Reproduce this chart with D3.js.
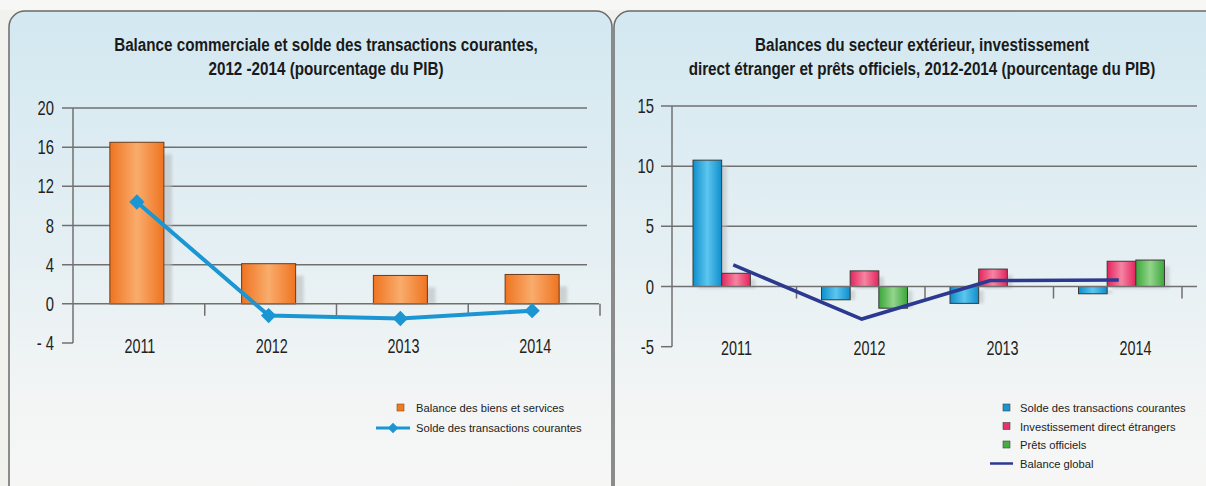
<!DOCTYPE html>
<html>
<head>
<meta charset="utf-8">
<title>Balances</title>
<script src="https://d3js.org/d3.v7.min.js"></script>
<style>
  body { margin: 0; background: #f1f1ed; }
  svg { display: block; }
  .title { font-family: "Liberation Sans", Arial, sans-serif; font-weight: bold; font-size: 17.5px; fill: #1a1a1a; }
  .tick-label { font-family: "Liberation Sans", Arial, sans-serif; font-size: 20px; fill: #222; }
  .legend { font-family: "Liberation Sans", sans-serif; font-size: 11.8px; fill: #222; }
</style>
</head>
<body>
<svg id="chart" width="1206" height="486"></svg>
<script>
// data
var years = ["2011", "2012", "2013", "2014"];
// left chart
var biensServices = [16.5, 4.1, 2.9, 3.0];
var soldeCourant = [10.4, -1.2, -1.5, -0.7];
var leftTicks = [20, 16, 12, 8, 4, 0, -4];
// right chart
var soldeTransactions = [10.5, -1.1, -1.4, -0.6];
var investissement = [1.1, 1.3, 1.45, 2.1];
var pretsOfficiels = [null, -1.8, null, 2.2];
var balanceGlobal = [1.8, -2.7, 0.5, 0.55];
var rightTicks = [15, 10, 5, 0, -5];

var svg = d3.select("#chart");
var defs = svg.append("defs");

// panel background gradient
var bg = defs.append("linearGradient").attr("id", "panelBg")
  .attr("x1", 0).attr("y1", 0).attr("x2", 0).attr("y2", 1);
bg.append("stop").attr("offset", "0%").attr("stop-color", "#d3e8f1");
bg.append("stop").attr("offset", "45%").attr("stop-color", "#e4eff3");
bg.append("stop").attr("offset", "75%").attr("stop-color", "#f3f5f5");
bg.append("stop").attr("offset", "100%").attr("stop-color", "#f7f7f5");

// bar gradients (light in the middle)
function barGrad(id, edge, mid) {
  var g = defs.append("linearGradient").attr("id", id)
    .attr("x1", 0).attr("y1", 0).attr("x2", 1).attr("y2", 0);
  g.append("stop").attr("offset", "0%").attr("stop-color", edge);
  g.append("stop").attr("offset", "50%").attr("stop-color", mid);
  g.append("stop").attr("offset", "100%").attr("stop-color", edge);
}
barGrad("gOrange", "#ef7421", "#f9ac6c");
barGrad("gBlue", "#0f8ecb", "#5cc6ef");
barGrad("gPink", "#e3245d", "#f584a3");
barGrad("gGreen", "#3ba63a", "#93d58c");

defs.append("filter").attr("id", "blur")
  .append("feGaussianBlur").attr("stdDeviation", 1.5);

// condensed text helper
function ctext(g, cls, x, y, sx, anchor, t) {
  return g.append("text").attr("class", cls)
    .attr("transform", "translate(" + x + "," + y + ") scale(" + sx + ",1)")
    .attr("text-anchor", anchor).text(t);
}

// panels
svg.append("rect").attr("x", 0).attr("y", 0).attr("width", 1206).attr("height", 10).attr("fill", "#f7f7f5");
[[9, 603], [614, 610]].forEach(function(p) {
  svg.append("rect")
    .attr("x", p[0]).attr("y", 11)
    .attr("width", p[1]).attr("height", 520)
    .attr("rx", 16)
    .attr("fill", "url(#panelBg)")
    .attr("stroke", "#6a6a6a")
    .attr("stroke-width", 1.5);
});

// ---------- left chart ----------
var xL = d3.scaleBand().domain(years).range([73, 600]);
var yL = d3.scaleLinear().domain([-4, 20]).range([343, 108]);
var L = svg.append("g");

ctext(L, "title", 326, 51, 0.87, "middle", "Balance commerciale et solde des transactions courantes,");
ctext(L, "title", 326, 75, 0.87, "middle", "2012 -2014 (pourcentage du PIB)");

// grid
L.selectAll(".grid").data(leftTicks.filter(function(d) { return d > 0; })).enter()
  .append("line")
  .attr("x1", 62).attr("x2", 587)
  .attr("y1", function(d) { return yL(d); }).attr("y2", function(d) { return yL(d); })
  .attr("stroke", "#707070").attr("stroke-width", 1.5);
L.append("line").attr("x1", 62).attr("x2", 73).attr("y1", yL(-4)).attr("y2", yL(-4))
  .attr("stroke", "#707070").attr("stroke-width", 1.5);
L.append("line").attr("x1", 73).attr("x2", 73).attr("y1", yL(20)).attr("y2", yL(-4))
  .attr("stroke", "#707070").attr("stroke-width", 1.5);

leftTicks.forEach(function(d) {
  ctext(L, "tick-label", 54, yL(d) + 7, 0.74, "end", d < 0 ? "- " + Math.abs(d) : String(d));
});

var bwL = xL.bandwidth() * 0.41;
function barX(d, i) { return xL(years[i]) + (xL.bandwidth() - bwL) / 2 - 2; }

// shadows
L.selectAll(".shL").data(biensServices).enter().append("rect")
  .attr("x", function(d, i) { return barX(d, i) + 8; })
  .attr("y", function(d) { return yL(d) + 12; })
  .attr("width", bwL)
  .attr("height", function(d) { return yL(0) - yL(d) - 12; })
  .attr("fill", "#b9bcbd").attr("opacity", 0.6).attr("filter", "url(#blur)");

L.selectAll(".barL").data(biensServices).enter().append("rect")
  .attr("x", barX)
  .attr("y", function(d) { return yL(d); })
  .attr("width", bwL)
  .attr("height", function(d) { return yL(0) - yL(d); })
  .attr("fill", "url(#gOrange)")
  .attr("stroke", "#6b3b1a").attr("stroke-width", 1);

// zero axis + ticks
L.append("line").attr("x1", 62).attr("x2", 599).attr("y1", yL(0)).attr("y2", yL(0))
  .attr("stroke", "#707070").attr("stroke-width", 1.5);
L.selectAll(".xtick").data(years).enter().append("line")
  .attr("x1", function(d) { return xL(d) + xL.bandwidth(); })
  .attr("x2", function(d) { return xL(d) + xL.bandwidth(); })
  .attr("y1", yL(0)).attr("y2", yL(0) + 12)
  .attr("stroke", "#707070").attr("stroke-width", 1.5);

years.forEach(function(d) {
  ctext(L, "tick-label", xL(d) + xL.bandwidth() / 2 + 1, 353, 0.72, "middle", d);
});

// line
var lineL = d3.line()
  .x(function(d, i) { return xL(years[i]) + xL.bandwidth() / 2 - 2; })
  .y(function(d) { return yL(d); });
L.append("path").datum(soldeCourant).attr("d", lineL)
  .attr("fill", "none").attr("stroke", "#1b96d2").attr("stroke-width", 4);
L.selectAll(".dia").data(soldeCourant).enter().append("path")
  .attr("d", d3.symbol().type(d3.symbolDiamond2).size(150))
  .attr("transform", function(d, i) {
    return "translate(" + (xL(years[i]) + xL.bandwidth() / 2 - 2) + "," + yL(d) + ")";
  })
  .attr("fill", "#1b96d2");

// legend left
L.append("rect").attr("x", 397).attr("y", 404).attr("width", 7).attr("height", 7)
  .attr("fill", "#f07a22").attr("stroke", "#8a4a1a").attr("stroke-width", 0.6);
ctext(L, "legend", 416, 412, 0.95, "start", "Balance des biens et services");
L.append("line").attr("x1", 376).attr("x2", 410).attr("y1", 428).attr("y2", 428)
  .attr("stroke", "#1b96d2").attr("stroke-width", 3);
L.append("path").attr("d", d3.symbol().type(d3.symbolDiamond2).size(70))
  .attr("transform", "translate(393,428)").attr("fill", "#1b96d2");
ctext(L, "legend", 416, 432, 0.95, "start", "Solde des transactions courantes");

// ---------- right chart ----------
var series = ["solde", "invest", "prets"];
var seriesVals = [soldeTransactions, investissement, pretsOfficiels];
var seriesFill = ["url(#gBlue)", "url(#gPink)", "url(#gGreen)"];
var seriesColor = ["#1b94d0", "#e8336a", "#47ad43"];

var xR = d3.scaleBand().domain(years).range([668, 1182]);
var x1 = d3.scaleBand().domain(series).range([25, 111]);
var xLab = d3.scaleBand().domain(years).range([670, 1202]);
var yR = d3.scaleLinear().domain([-5, 15]).range([346.7, 106]);
var R = svg.append("g");

ctext(R, "title", 922, 51, 0.87, "middle", "Balances du secteur extérieur, investissement");
ctext(R, "title", 922, 75, 0.87, "middle", "direct étranger et prêts officiels, 2012-2014 (pourcentage du PIB)");

R.selectAll(".grid").data(rightTicks.filter(function(d) { return d > 0; })).enter()
  .append("line")
  .attr("x1", 661).attr("x2", 1197)
  .attr("y1", function(d) { return yR(d); }).attr("y2", function(d) { return yR(d); })
  .attr("stroke", "#707070").attr("stroke-width", 1.5);
R.append("line").attr("x1", 661).attr("x2", 672).attr("y1", yR(-5)).attr("y2", yR(-5))
  .attr("stroke", "#707070").attr("stroke-width", 1.5);
R.append("line").attr("x1", 672).attr("x2", 672).attr("y1", yR(15)).attr("y2", yR(-5))
  .attr("stroke", "#707070").attr("stroke-width", 1.5);

rightTicks.forEach(function(d) {
  ctext(R, "tick-label", 654, yR(d) + 7, 0.74, "end", String(d));
});

var barData = [];
seriesVals.forEach(function(vals, s) {
  vals.forEach(function(v, i) {
    if (v !== null) barData.push({ year: years[i], s: s, v: v });
  });
});

R.selectAll(".shR").data(barData).enter().append("rect")
  .attr("x", function(d) { return xR(d.year) + x1(series[d.s]) + 5; })
  .attr("y", function(d) { return d.v > 0 ? yR(d.v) + 6 : yR(0) + 4; })
  .attr("width", x1.bandwidth())
  .attr("height", function(d) { return Math.max(0, Math.abs(yR(d.v) - yR(0)) - 4); })
  .attr("fill", "#b9bcbd").attr("opacity", 0.55).attr("filter", "url(#blur)");

R.selectAll(".barR").data(barData).enter().append("rect")
  .attr("x", function(d) { return xR(d.year) + x1(series[d.s]); })
  .attr("y", function(d) { return Math.min(yR(d.v), yR(0)); })
  .attr("width", x1.bandwidth())
  .attr("height", function(d) { return Math.abs(yR(d.v) - yR(0)); })
  .attr("fill", function(d) { return seriesFill[d.s]; })
  .attr("stroke", "#3a3a3a").attr("stroke-width", 1);

R.append("line").attr("x1", 661).attr("x2", 1197).attr("y1", yR(0)).attr("y2", yR(0))
  .attr("stroke", "#707070").attr("stroke-width", 1.5);
R.selectAll(".xtick").data(years).enter().append("line")
  .attr("x1", function(d) { return xR(d) + xR.bandwidth(); })
  .attr("x2", function(d) { return xR(d) + xR.bandwidth(); })
  .attr("y1", yR(0)).attr("y2", yR(0) + 12)
  .attr("stroke", "#707070").attr("stroke-width", 1.5);

years.forEach(function(d) {
  ctext(R, "tick-label", xLab(d) + xLab.bandwidth() / 2, 355, 0.72, "middle", d);
});

var lineR = d3.line()
  .x(function(d, i) { return xR(years[i]) + xR.bandwidth() / 2 + 1; })
  .y(function(d) { return yR(d); });
R.append("path").datum(balanceGlobal).attr("d", lineR)
  .attr("fill", "none").attr("stroke", "#2b3990").attr("stroke-width", 3.5);

// legend right
var legR = ["Solde des transactions courantes", "Investissement direct étrangers", "Prêts officiels"];
legR.forEach(function(t, i) {
  R.append("rect").attr("x", 1003).attr("y", 404 + i * 18.5).attr("width", 7).attr("height", 7)
    .attr("fill", seriesColor[i]).attr("stroke", "#444").attr("stroke-width", 0.6);
  ctext(R, "legend", 1020, 412 + i * 18.5, 0.95, "start", t);
});
R.append("line").attr("x1", 990).attr("x2", 1013).attr("y1", 463.5).attr("y2", 463.5)
  .attr("stroke", "#2b3990").attr("stroke-width", 2.5);
ctext(R, "legend", 1020, 467.5, 0.95, "start", "Balance global");
</script>
</body>
</html>
